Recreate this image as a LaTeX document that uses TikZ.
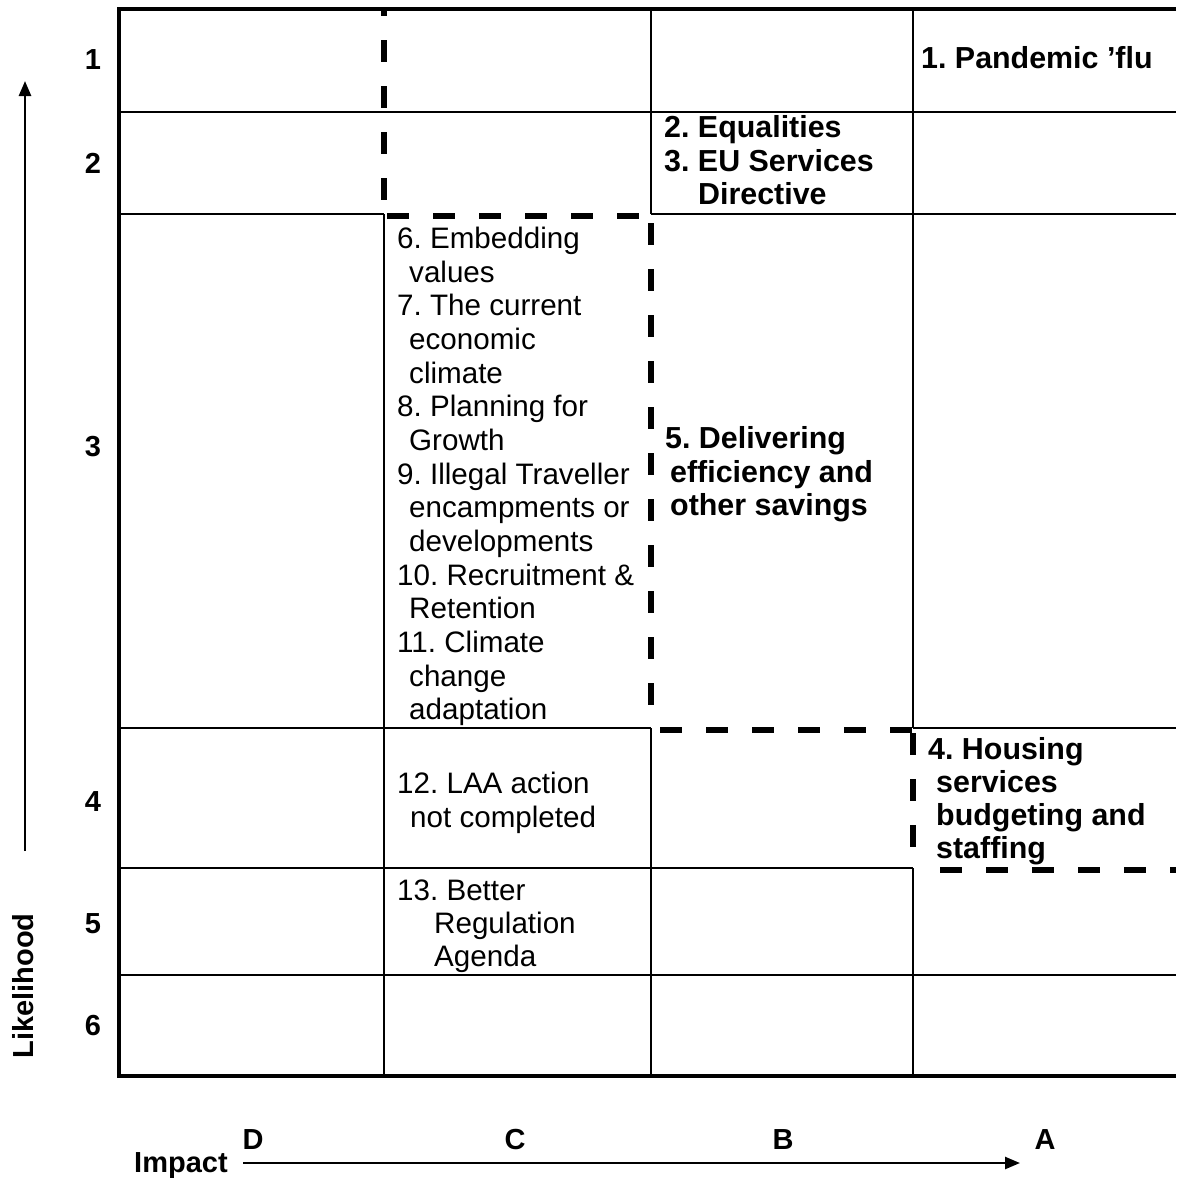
\documentclass[tikz,border=0pt]{standalone}
\usepackage{fontspec}
\setmainfont{Liberation Sans}
\usetikzlibrary{arrows.meta}
\frenchspacing
\begin{document}
\begin{tikzpicture}[x=1pt,y=-1pt,
  grid/.style={line width=2.2pt},
  outer/.style={line width=3.2pt},
  dsh/.style={line width=6pt, dash pattern=on 22pt off 24pt},
  txt/.style={anchor=base west, inner sep=0pt, font=\fontsize{29.6}{34}\selectfont},
  btxt/.style={anchor=base west, inner sep=0pt, font=\fontsize{30.4}{34}\selectfont\bfseries},
  lbl/.style={anchor=base, inner sep=0pt, font=\fontsize{29}{34}\selectfont\bfseries},
  axis/.style={line width=2.5pt, -{Triangle[length=15pt,width=12pt]}}]

\useasboundingbox[fill=white] (0,0) rectangle (1176,1178);

% solid grid lines
\draw[grid] (119,112) -- (1176,112);
\draw[grid] (119,214) -- (384,214);
\draw[grid] (651,214) -- (1176,214);
\draw[grid] (119,728) -- (651,728);
\draw[grid] (913,728) -- (1176,728);
\draw[grid] (119,868) -- (913,868);
\draw[grid] (119,975) -- (1176,975);
\draw[grid] (384,214) -- (384,1076);
\draw[grid] (651,9) -- (651,214);
\draw[grid] (651,728) -- (651,1076);
\draw[grid] (913,9) -- (913,728);
\draw[grid] (913,868) -- (913,1076);
% outer border
\draw[outer] (1176,9) -- (119,9) -- (119,1076) -- (1176,1076);

% dashed boundaries
\draw[dsh, dash phase=14pt] (384,8) -- (384,212);
\draw[dsh] (387,216) -- (651,216);
\draw[dsh] (651,223) -- (651,706);
\draw[dsh] (660,730) -- (913,730);
\draw[dsh] (913,733) -- (913,850);
\draw[dsh] (940,870) -- (1176,870);

% row labels
\node[lbl] (r1) at (93,69) {1};
\node[lbl] (r2) at (93,173) {2};
\node[lbl] (r3) at (93,456) {3};
\node[lbl] (r4) at (93,811) {4};
\node[lbl] (r5) at (93,933) {5};
\node[lbl] (r6) at (93,1035) {6};

% column labels
\node[lbl] (cD) at (253,1149) {D};
\node[lbl] (cC) at (515,1149) {C};
\node[lbl] (cB) at (783,1149) {B};
\node[lbl] (cA) at (1045,1149) {A};

% axes
\node[lbl, anchor=base west] (imp) at (134,1172) {Impact};
\coordinate (impS) at (243,1163);
\coordinate (impE) at (1020,1163);
\draw[axis] (impS) -- (impE);
\node[lbl, rotate=90] (lik) at (33,986) {Likelihood};
\coordinate (likS) at (25,851);
\coordinate (likE) at (25,81);
\draw[axis] (likS) -- (likE);

% A column
\node[btxt] (t1) at (921,68) {1. Pandemic ’flu};
\node[btxt] (t4a) at (928,759) {4. Housing};
\node[btxt] (t4b) at (936,792) {services};
\node[btxt] (t4c) at (936,825) {budgeting and};
\node[btxt] (t4d) at (936,858) {staffing};

% B column
\node[btxt] (t2) at (664,137) {2. Equalities};
\node[btxt] (t3a) at (664,171) {3. EU Services};
\node[btxt] (t3b) at (698,204) {Directive};
\node[btxt] (t5a) at (665,448) {5. Delivering};
\node[btxt] (t5b) at (670,482) {efficiency and};
\node[btxt] (t5c) at (670,515) {other savings};

% C column
\node[txt] (t6a) at (397,248) {6. Embedding};
\node[txt] (t6b) at (409,282) {values};
\node[txt] (t7a) at (397,315) {7. The current};
\node[txt] (t7b) at (409,349) {economic};
\node[txt] (t7c) at (409,383) {climate};
\node[txt] (t8a) at (397,416) {8. Planning for};
\node[txt] (t8b) at (409,450) {Growth};
\node[txt] (t9a) at (397,484) {9. Illegal Traveller};
\node[txt] (t9b) at (409,517) {encampments or};
\node[txt] (t9c) at (409,551) {developments};
\node[txt] (t10a) at (397,585) {10. Recruitment \&};
\node[txt] (t10b) at (409,618) {Retention};
\node[txt] (t11a) at (397,652) {11. Climate};
\node[txt] (t11b) at (409,686) {change};
\node[txt] (t11c) at (409,719) {adaptation};
\node[txt] (t12a) at (397,793) {12. LAA action};
\node[txt] (t12b) at (410,827) {not completed};
\node[txt] (t13a) at (397,900) {13. Better};
\node[txt] (t13b) at (434,933) {Regulation};
\node[txt] (t13c) at (434,966) {Agenda};
\end{tikzpicture}
\end{document}
